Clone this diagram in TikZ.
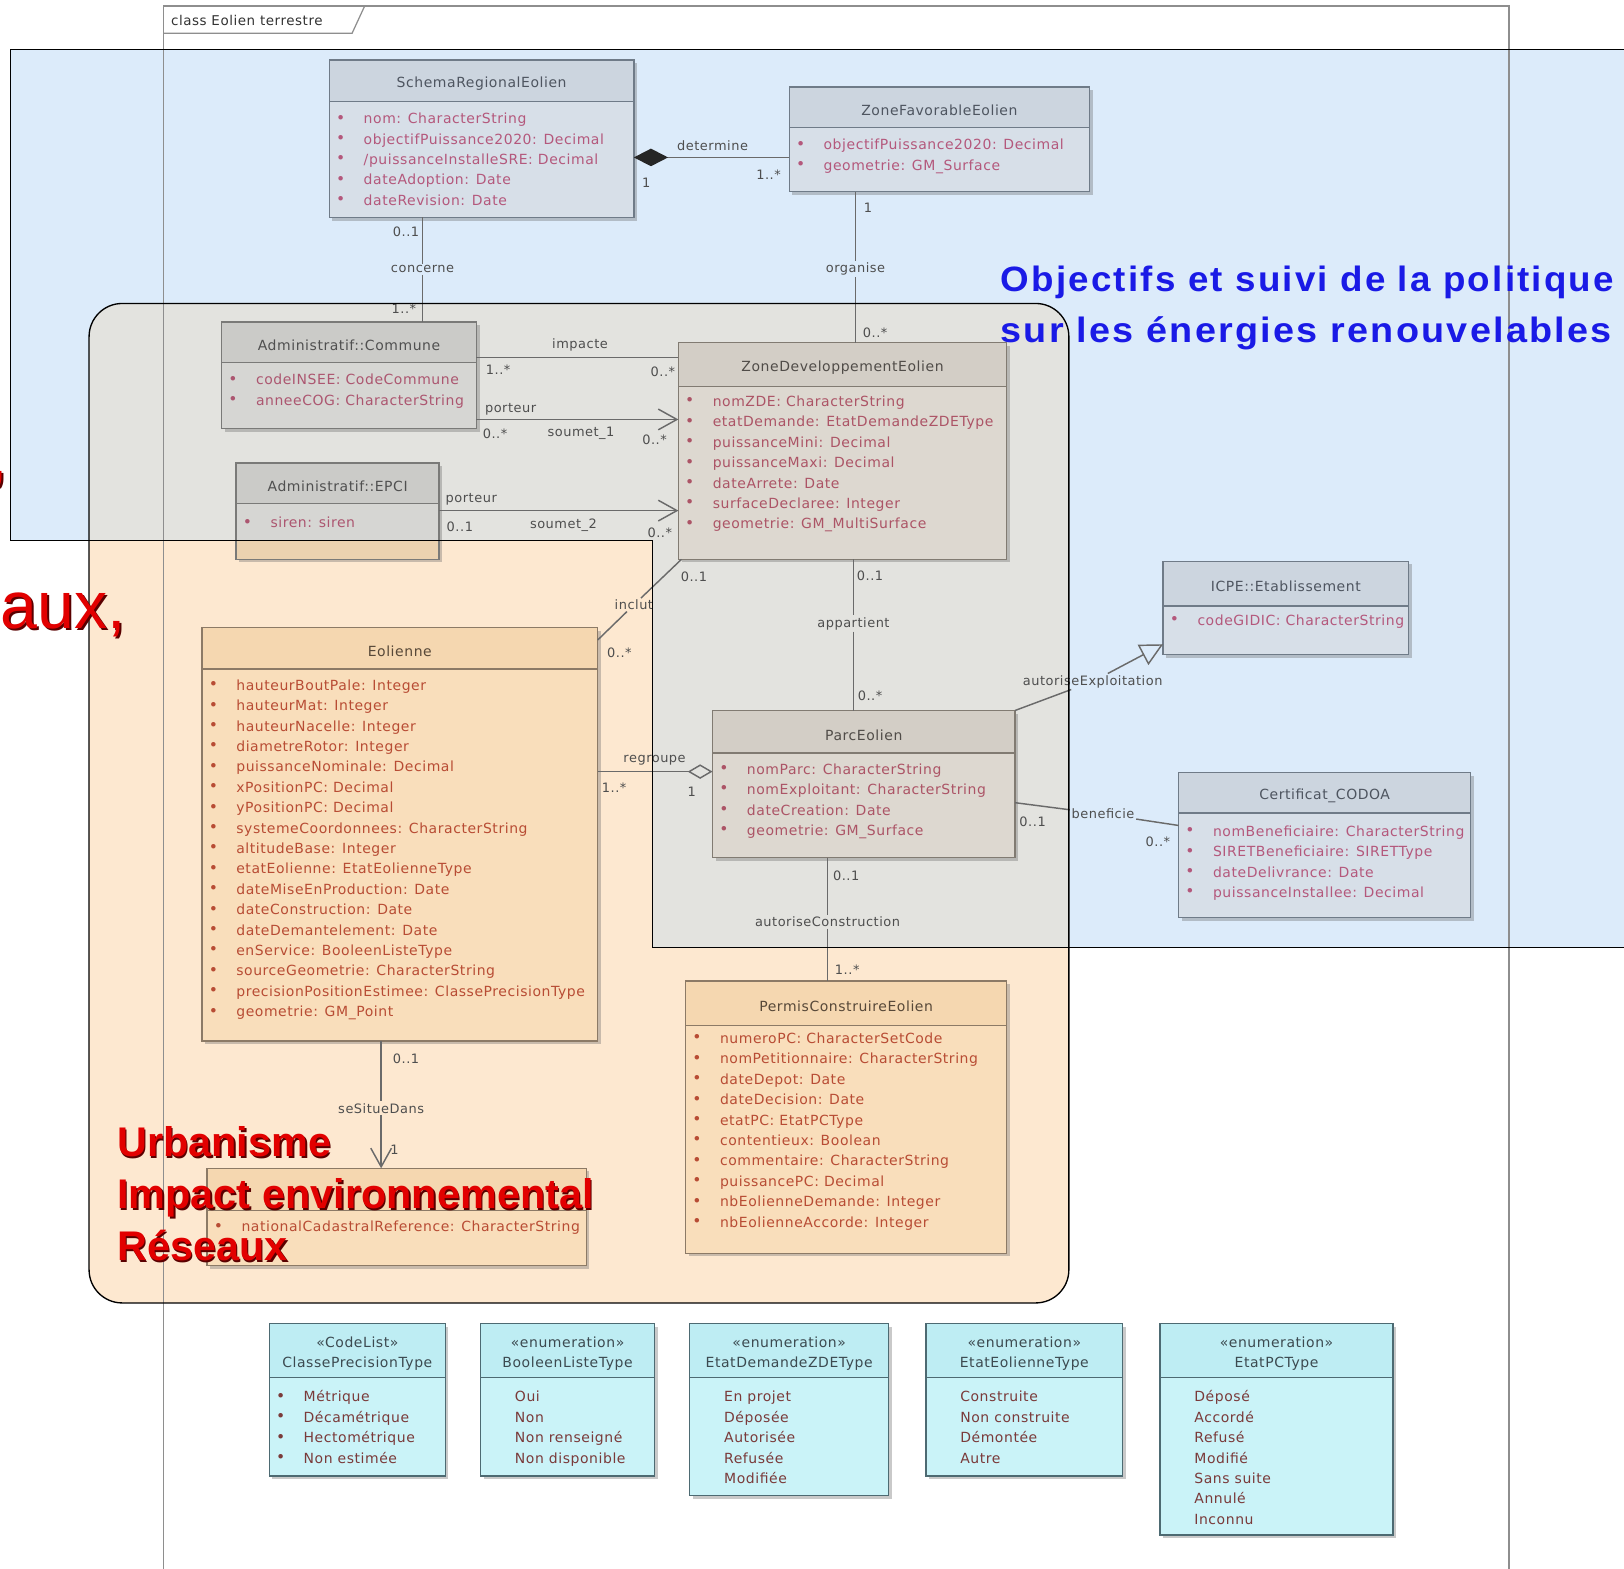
\documentclass[tikz,border=0pt]{standalone}
\usepackage{fontspec}
\setmainfont{Liberation Sans}
\newfontfamily\umlf[LetterSpace=4]{DejaVu Sans}
\newfontfamily\bigbf[LetterSpace=6]{Liberation Sans}
\usetikzlibrary{arrows.meta,shadows}

\definecolor{blueReg}{HTML}{DCEBFA}
\definecolor{peachReg}{HTML}{FDE8D0}
\definecolor{overReg}{HTML}{E3E3DF}
\definecolor{frameC}{HTML}{8E8E8E}
\definecolor{lineC}{HTML}{6A6A6A}
\definecolor{labelC}{HTML}{4E4E4E}
\definecolor{blueBody}{HTML}{D7DFE8}
\definecolor{blueHead}{HTML}{CCD5DF}
\definecolor{blueBorder}{HTML}{6F7B88}
\definecolor{blueAttr}{HTML}{B4587C}
\definecolor{blueTitle}{HTML}{4E5560}
\definecolor{greyBody}{HTML}{D6D6D3}
\definecolor{greyHead}{HTML}{CBCBC8}
\definecolor{greyBorder}{HTML}{7A7A78}
\definecolor{greyAttr}{HTML}{AC5670}
\definecolor{greyTitle}{HTML}{505050}
\definecolor{beigeBody}{HTML}{DDD8D0}
\definecolor{beigeHead}{HTML}{D3CEC6}
\definecolor{beigeBorder}{HTML}{817B72}
\definecolor{beigeAttr}{HTML}{AC5466}
\definecolor{beigeTitle}{HTML}{504C48}
\definecolor{peachBody}{HTML}{F9DEBB}
\definecolor{peachHead}{HTML}{F5D7B0}
\definecolor{peachBorder}{HTML}{8C7A66}
\definecolor{peachAttr}{HTML}{B84C34}
\definecolor{peachTitle}{HTML}{574838}
\definecolor{peachTint}{HTML}{EBD2B0}
\definecolor{enumBody}{HTML}{CAF3F8}
\definecolor{enumHead}{HTML}{BEEDF3}
\definecolor{enumBorder}{HTML}{4D6A72}
\definecolor{enumAttr}{HTML}{7A3A3A}
\definecolor{enumTitle}{HTML}{3C4A50}
\definecolor{bigBlue}{HTML}{1A1AE6}
\definecolor{bigRed}{HTML}{E20000}
\definecolor{redShadow}{HTML}{5A0000}

\tikzset{
 box/.style={inner sep=0pt, outer sep=0pt, drop shadow={shadow xshift=3pt, shadow yshift=-3pt, opacity=0.35, fill=black!60}},
 ttl/.style={font=\umlf\fontsize{13.5}{19}\selectfont, inner sep=0pt, align=center},
 attr/.style={font=\umlf\fontsize{13.5}{16}\selectfont, inner sep=0pt, text height=10pt, text depth=1pt},
 bul/.style={font=\umlf\fontsize{15}{15}\selectfont, inner sep=0pt},
 lbl/.style={font=\umlf\fontsize{12.5}{14}\selectfont, text=labelC, inner sep=1.5pt},
 conn/.style={draw=lineC, line width=1.4pt},
 regionline/.style={draw=black, line width=1.3pt},
 bigblue/.style={font=\bigbf\bfseries\fontsize{34}{40}\selectfont, text=bigBlue, inner sep=0pt},
 bigred/.style={font=\bfseries\fontsize{40}{50}\selectfont, text=bigRed, inner sep=0pt},
 bigredsh/.style={font=\bfseries\fontsize{40}{50}\selectfont, text=redShadow, inner sep=0pt},
 edgered/.style={font=\fontsize{64}{70}\selectfont, text=bigRed, inner sep=0pt},
 edgeredsh/.style={font=\fontsize{64}{70}\selectfont, text=redShadow, inner sep=0pt},
 barb/.style={-{Straight Barb[length=18pt,width=20pt,line width=1.4pt]}},
}

% #1 name, #2 kind, #3 x, #4 y, #5 w, #6 h, #7 header h, #8 title
\newcommand\umlclass[8]{%
  \node[box, fill=#2Body, minimum width=#5pt, minimum height=#6pt, anchor=north west] (#1) at (#3,#4) {};
  \fill[#2Head] ([xshift=0.6pt,yshift=-0.6pt]#1.north west) rectangle ([xshift=-0.6pt,yshift=-#7pt]#1.north east);
  \draw[line width=1.3pt, #2Border] (#1.north west) rectangle (#1.south east);
  \draw[line width=1.3pt, #2Border] ([yshift=-#7pt]#1.north west) -- ([yshift=-#7pt]#1.north east);
  \node[ttl, text=#2Title] (#1-title) at ([yshift=-#7pt/2-3pt]#1.north) {#8};
}
% #1 name, #2 kind, #3 first offset, #4 bullets (1/0), #5 list
\newcommand\umlattrs[5]{%
  \foreach \a [count=\i from 0] in {#5}{%
    \pgfmathsetmacro\yy{#3+\i*19.7}%
    \ifnum#4=1
      \node[bul, text=#2Attr] (#1-b\i) at ([xshift=11pt, yshift=-\yy pt]#1.north west) {•};
    \fi
    \node[attr, text=#2Attr, anchor=west] (#1-a\i) at ([xshift=33pt, yshift=-\yy pt]#1.north west) {\a};
  }%
}

\begin{document}
\begin{tikzpicture}[x=1pt,y=-1pt]
\useasboundingbox (0,0) rectangle (1568,1514);
\fill[white] (0,0) rectangle (1568,1514);

% regions (fills)
\fill[blueReg] (10,48) -- (1590,48) -- (1590,915) -- (630,915) -- (630,522) -- (10,522) -- cycle;
\fill[peachReg, rounded corners=32pt] (86,293) rectangle (1032,1258);
\begin{scope}
  \clip (10,48) -- (1590,48) -- (1590,915) -- (630,915) -- (630,522) -- (10,522) -- cycle;
  \fill[overReg, rounded corners=32pt] (86,293) rectangle (1032,1258);
\end{scope}

% frame
\draw[frameC, line width=1.5pt] (158,1530) -- (158,6) -- (1457,6) -- (1457,1530);
\draw[frameC, line width=1.2pt] (158,32) -- (340,32) -- (352,6);
\node[font=\umlf\fontsize{13}{14}\selectfont, text=black!80, anchor=west, inner sep=0pt] (ftab) at (165,20) {class Eolien terrestre};

% classes
\umlclass{schema}{blue}{318}{58}{294}{152}{40}{SchemaRegionalEolien}
\umlattrs{schema}{blue}{57}{1}{nom: CharacterString, objectifPuissance2020: Decimal, /puissanceInstalleSRE: Decimal, dateAdoption: Date, dateRevision: Date}

\umlclass{zonefav}{blue}{762}{84}{290}{101}{39}{ZoneFavorableEolien}
\umlattrs{zonefav}{blue}{56}{1}{objectifPuissance2020: Decimal, geometrie: GM\_Surface}

\umlclass{commune}{grey}{214}{311}{246}{103}{39}{Administratif::Commune}
\umlattrs{commune}{grey}{56}{1}{codeINSEE: CodeCommune, anneeCOG: CharacterString}

\umlclass{epci}{grey}{228}{447}{196}{93}{39}{Administratif::EPCI}
\fill[peachTint] ([xshift=0.65pt]epci.south west) rectangle ([xshift=-0.65pt, yshift=18pt]epci.south east);
\draw[line width=1.3pt, greyBorder] (epci.north west) rectangle (epci.south east);
\umlattrs{epci}{grey}{58}{1}{siren: siren}

\umlclass{zonedev}{beige}{655}{331}{317}{209}{42}{ZoneDeveloppementEolien}
\umlattrs{zonedev}{beige}{57}{1}{nomZDE: CharacterString, etatDemande: EtatDemandeZDEType, puissanceMini: Decimal, puissanceMaxi: Decimal, dateArrete: Date, surfaceDeclaree: Integer, geometrie: GM\_MultiSurface}

\umlclass{eolienne}{peach}{195}{606}{382}{399}{40}{Eolienne}
\umlattrs{eolienne}{peach}{56}{1}{hauteurBoutPale: Integer, hauteurMat: Integer, hauteurNacelle: Integer, diametreRotor: Integer, puissanceNominale: Decimal, xPositionPC: Decimal, yPositionPC: Decimal, systemeCoordonnees: CharacterString, altitudeBase: Integer, etatEolienne: EtatEolienneType, dateMiseEnProduction: Date, dateConstruction: Date, dateDemantelement: Date, enService: BooleenListeType, sourceGeometrie: CharacterString, precisionPositionEstimee: ClassePrecisionType, geometrie: GM\_Point}

\umlclass{parc}{beige}{688}{686}{292}{142}{41}{ParcEolien}
\umlattrs{parc}{beige}{57}{1}{nomParc: CharacterString, nomExploitant: CharacterString, dateCreation: Date, geometrie: GM\_Surface}

\umlclass{icpe}{blue}{1123}{542}{237}{90}{43}{ICPE::Etablissement}
\umlattrs{icpe}{blue}{57}{1}{codeGIDIC: CharacterString}

\umlclass{cert}{blue}{1138}{746}{282}{140}{39}{Certificat\_CODOA}
\umlattrs{cert}{blue}{57}{1}{nomBeneficiaire: CharacterString, SIRETBeneficiaire: SIRETType, dateDelivrance: Date, puissanceInstallee: Decimal}

\umlclass{permis}{peach}{662}{947}{310}{263}{43}{PermisConstruireEolien}
\umlattrs{permis}{peach}{56}{1}{numeroPC: CharacterSetCode, nomPetitionnaire: CharacterString, dateDepot: Date, dateDecision: Date, etatPC: EtatPCType, contentieux: Boolean, commentaire: CharacterString, puissancePC: Decimal, nbEolienneDemande: Integer, nbEolienneAccorde: Integer}

\umlclass{parcelle}{peach}{200}{1128}{366}{94}{41}{}
\umlattrs{parcelle}{peach}{57}{1}{nationalCadastralReference: CharacterString}

% enumerations
\umlclass{en1}{enum}{260}{1278}{170}{147}{52}{«CodeList»\\ClassePrecisionType}
\umlattrs{en1}{enum}{71}{1}{Métrique, Décamétrique, Hectométrique, Non estimée}
\umlclass{en2}{enum}{464}{1278}{168}{147}{52}{«enumeration»\\BooleenListeType}
\umlattrs{en2}{enum}{71}{0}{Oui, Non, Non renseigné, Non disponible}
\umlclass{en3}{enum}{666}{1278}{192}{166}{52}{«enumeration»\\EtatDemandeZDEType}
\umlattrs{en3}{enum}{71}{0}{En projet, Déposée, Autorisée, Refusée, Modifiée}
\umlclass{en4}{enum}{894}{1278}{190}{147}{52}{«enumeration»\\EtatEolienneType}
\umlattrs{en4}{enum}{71}{0}{Construite, Non construite, Démontée, Autre}
\umlclass{en5}{enum}{1120}{1278}{225}{204}{52}{«enumeration»\\EtatPCType}
\umlattrs{en5}{enum}{71}{0}{Déposé, Accordé, Refusé, Modifié, Sans suite, Annulé, Inconnu}

% connectors
\draw[conn, {Diamond[length=33pt,width=17pt,color=black!85]}-] ([yshift=-94pt]schema.north east) -- ([yshift=-68pt]zonefav.north west);
\node[lbl] (ldet) at (688,141) {determine};
\node[lbl] (m1) at (624,176) {1};
\node[lbl] (m2) at (742,169) {1..*};

\node[lbl] (lconc) at (408,260) {concerne};
\draw[conn] (schema.south -| lconc) -- (lconc) -- (commune.north -| lconc);
\node[lbl] (m3) at (392,224) {0..1};
\node[lbl] (m4) at (390,298) {1..*};

\node[lbl] (lorg) at (826,260) {organise};
\draw[conn] (zonefav.south -| lorg) -- (lorg) -- (zonedev.north -| lorg);
\node[lbl] (m5) at (838,201) {1};
\node[lbl] (m6) at (845,321) {0..*};

\draw[conn] ([yshift=-34pt]commune.north east) -- ([yshift=-14pt]zonedev.north west);
\node[lbl] (limp) at (560,333) {impacte};
\node[lbl] (m7) at (481,357) {1..*};
\node[lbl] (m8) at (640,359) {0..*};

\draw[conn, barb] ([yshift=-94pt]commune.north east) -- ([yshift=-74pt]zonedev.north west);
\node[lbl] (lpor1) at (493,395) {porteur};
\node[lbl] (m9) at (478,419) {0..*};
\node[lbl] (lsou1) at (561,418) {soumet\_1};
\node[lbl] (m10) at (632,425) {0..*};

\draw[conn, barb] ([yshift=-46pt]epci.north east) -- ([yshift=-162pt]zonedev.north west);
\node[lbl] (lpor2) at (455,482) {porteur};
\node[lbl] (m11) at (444,509) {0..1};
\node[lbl] (lsou2) at (544,507) {soumet\_2};
\node[lbl] (m12) at (637,514) {0..*};

\node[lbl] (linc) at (612,584) {inclut};
\draw[conn] ([xshift=3pt]zonedev.south west) -- (linc) -- ([yshift=-12pt]eolienne.north east);
\node[lbl] (m13) at (670,557) {0..1};
\node[lbl] (m14) at (598,630) {0..*};

\node[lbl] (lapp) at (824,602) {appartient};
\draw[conn] (zonedev.south -| lapp) -- (lapp) -- (parc.north -| lapp);
\node[lbl] (m15) at (840,556) {0..1};
\node[lbl] (m16) at (840,672) {0..*};

\draw[conn, -{Diamond[open,length=24pt,width=14pt,line width=1.4pt]}] ([yshift=-139pt]eolienne.north east) -- ([yshift=-59pt]parc.north west);
\node[lbl] (lreg) at (632,734) {regroupe};
\node[lbl] (m17) at (593,761) {1..*};
\node[lbl] (m18) at (668,764) {1};

\node[lbl] (lae) at (1055,658) {autoriseExploitation};
\draw[conn] (parc.north east) -- (lae);
\draw[conn, -{Triangle[open,length=22pt,width=22pt,line width=1.4pt]}] (lae) -- ([yshift=10pt]icpe.south west);

\node[lbl] (lben) at (1065,786) {beneficie};
\draw[conn] ([yshift=-89pt]parc.north east) -- (lben) -- ([yshift=-51pt]cert.north west);
\node[lbl] (m19) at (997,793) {0..1};
\node[lbl] (m20) at (1118,813) {0..*};

\node[lbl] (lac) at (799,890) {autoriseConstruction};
\draw[conn] (parc.south -| lac) -- (lac) -- (permis.north -| lac);
\node[lbl] (m21) at (817,846) {0..1};
\node[lbl] (m22) at (818,936) {1..*};

\node[lbl] (lsit) at (368,1070) {seSitueDans};
\draw[conn] (eolienne.south -| lsit) -- (lsit);
\draw[conn, barb] (lsit) -- (parcelle.north -| lsit);
\node[lbl] (m23) at (392,1022) {0..1};
\node[lbl] (m24) at (381,1110) {1};

% region borders
\draw[regionline] (10,48) -- (1590,48) -- (1590,915) -- (630,915) -- (630,522) -- (10,522) -- cycle;
\draw[regionline, rounded corners=32pt] (86,293) rectangle (1032,1258);

% big texts
\node[bigblue, anchor=base west] (tb1) at (966,281) {\scalebox{1.044}[1]{Objectifs et suivi de la politique}};
\node[bigblue, anchor=base west] (tb2) at (966,331) {\scalebox{1.073}[1]{sur les énergies renouvelables}};

\node[bigredsh, anchor=base west] (sr1) at (114.5,1118.5) {Urbanisme};
\node[bigredsh, anchor=base west] (sr2) at (114.5,1168.5) {Impact environnemental};
\node[bigredsh, anchor=base west] (sr3) at (114.5,1218.5) {Réseaux};
\node[bigred, anchor=base west] (tr1) at (113,1117) {Urbanisme};
\node[bigred, anchor=base west] (tr2) at (113,1167) {Impact environnemental};
\node[bigred, anchor=base west] (tr3) at (113,1217) {Réseaux};

\node[edgeredsh, anchor=base east] (se0) at (9.5,463.5) {,};
\node[edgeredsh, anchor=base east] (se1) at (123.5,608.5) {aux,};
\node[edgered, anchor=base east] (te0) at (8,462) {,};
\node[edgered, anchor=base east] (te1) at (122,607) {aux,};
\end{tikzpicture}
\end{document}
